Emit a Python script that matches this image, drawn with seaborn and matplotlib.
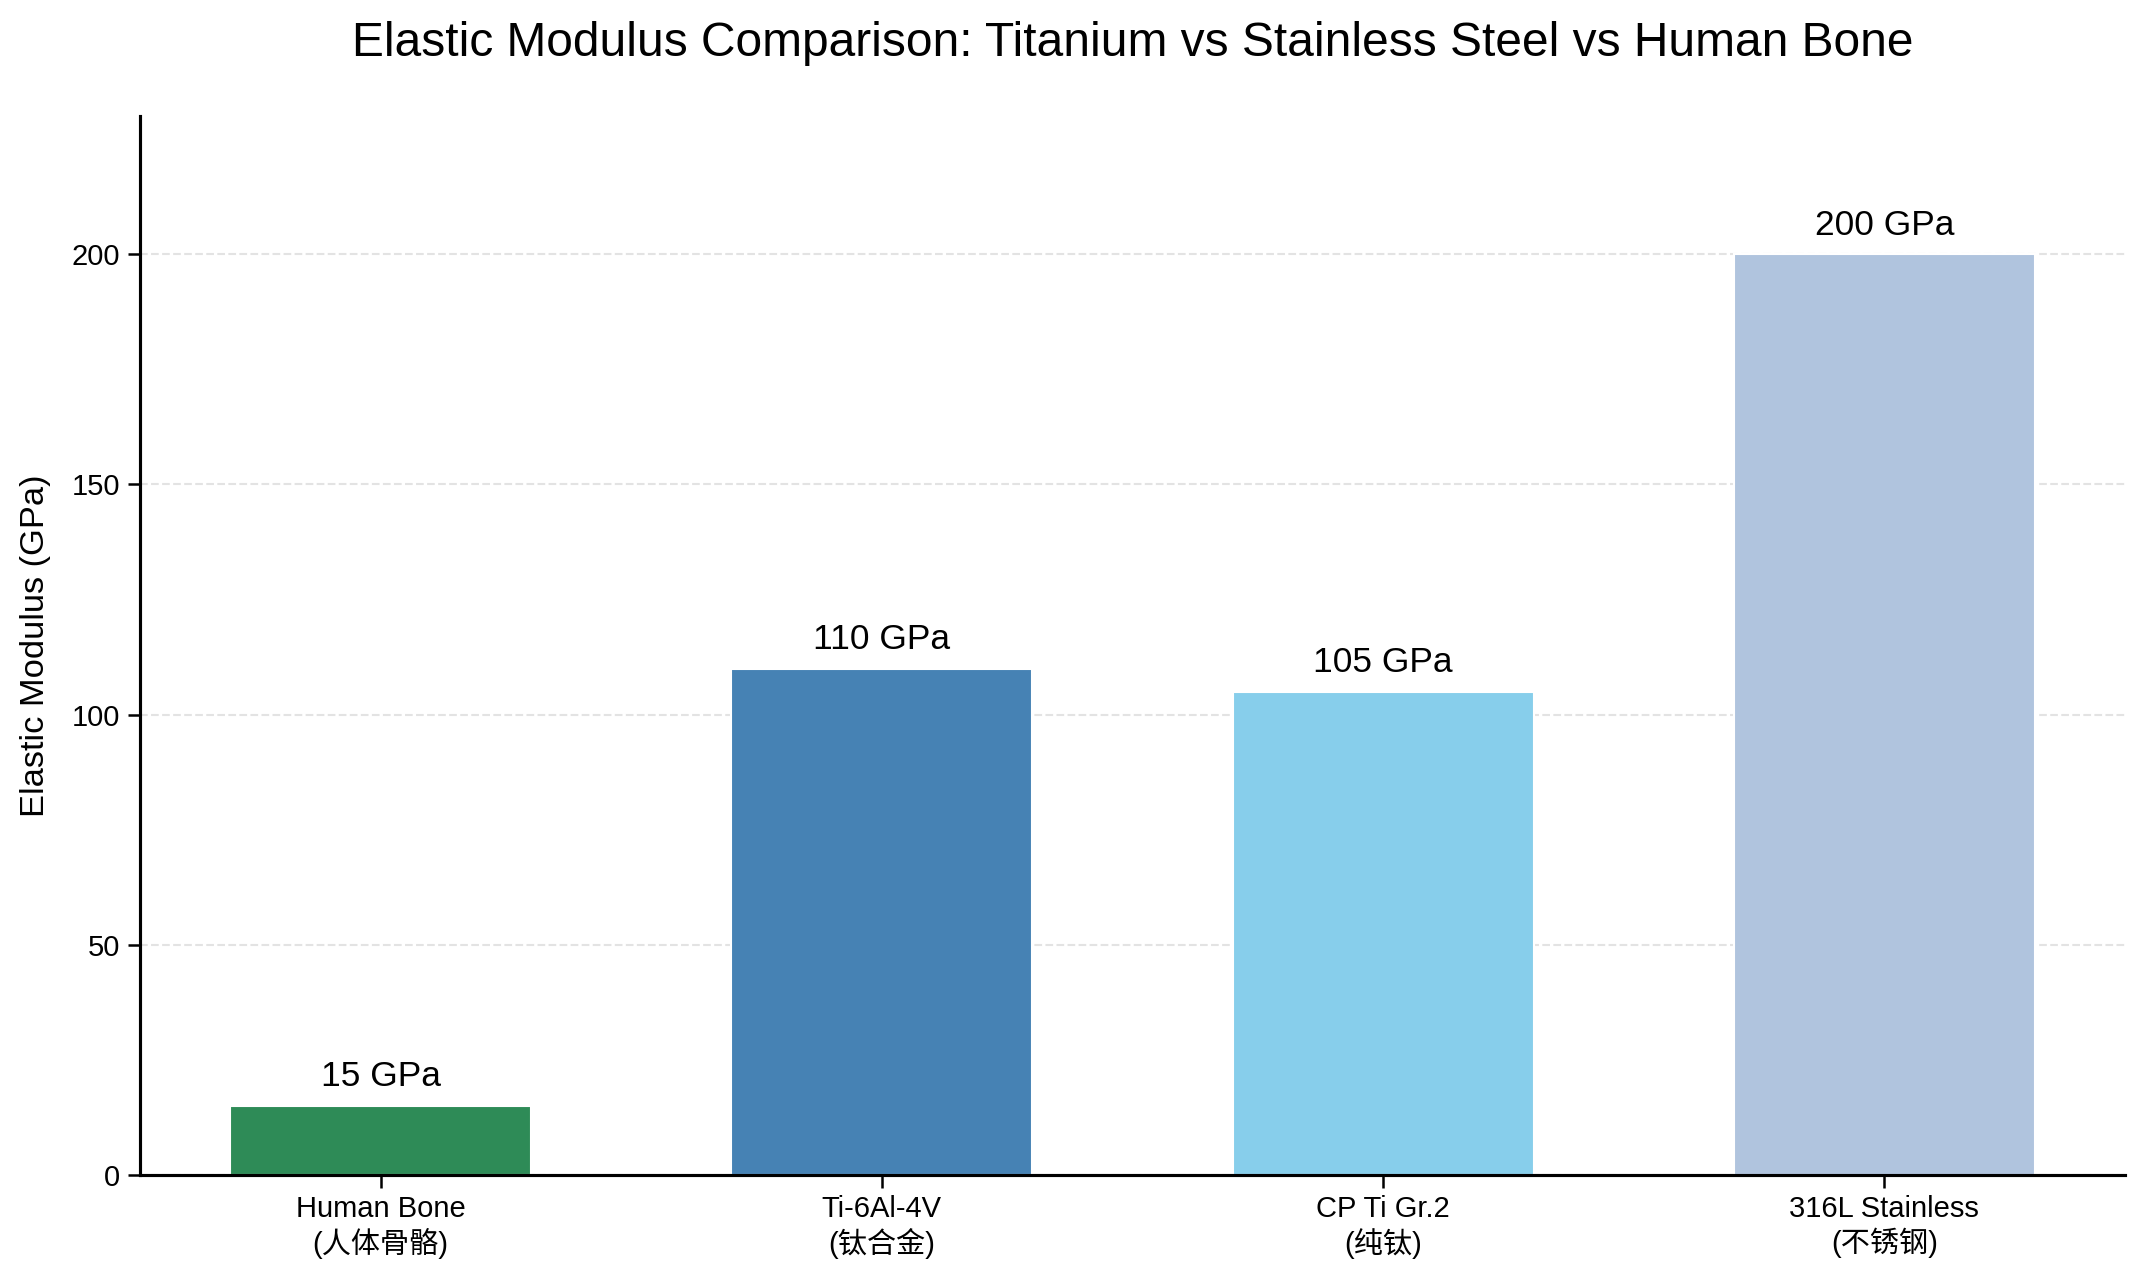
import matplotlib
matplotlib.use("Agg")
import matplotlib.pyplot as plt
import seaborn as sns
import pandas as pd

categories = ["Human Bone\n(人体骨骼)", "Ti-6Al-4V\n(钛合金)", "CP Ti Gr.2\n(纯钛)", "316L Stainless\n(不锈钢)"]
values = [15, 110, 105, 200]
bar_labels = ["15 GPa", "110 GPa", "105 GPa", "200 GPa"]
colors = ["#2E8B57", "#4682B4", "#87CEEB", "#B0C4DE"]
yticks = [0, 50, 100, 150, 200]

sns.set_theme(style="white")
plt.rcParams['font.family'] = ['Liberation Sans', 'Noto Sans CJK SC', 'DejaVu Sans']

df = pd.DataFrame({"Material": categories, "Modulus": values})

fig = plt.figure(figsize=(2147 / 150, 1279 / 150), dpi=150)
ax = fig.add_axes([140 / 2147, 1 - 1175 / 1279, (2125 - 140) / 2147, (1175 - 116) / 1279])

sns.barplot(data=df, x="Material", y="Modulus", hue="Material", palette=colors,
            width=0.6, saturation=1, legend=False, ax=ax)

for i, (v, lab) in enumerate(zip(values, bar_labels)):
    ax.annotate(lab, (i, v), xytext=(0, 6), textcoords="offset points",
                ha="center", va="bottom", fontsize=17, color="black")

ax.set_xlim(-0.48, 3.48)
ax.set_ylim(0, 230)
ax.set_yticks(yticks)
ax.yaxis.grid(True, linestyle="--", color="#dddddd", linewidth=1, alpha=0.8)
ax.set_axisbelow(True)
ax.tick_params(axis="both", which="both", length=6, width=1.2, color="black",
               labelsize=14, labelcolor="black", bottom=True, left=True)
for s in ["top", "right"]:
    ax.spines[s].set_visible(False)
for s in ["left", "bottom"]:
    ax.spines[s].set_color("black")
    ax.spines[s].set_linewidth(1.5)

ax.set_xlabel("")
ax.set_ylabel("Elastic Modulus (GPa)", fontsize=16.5, color="black", labelpad=10)
ax.set_title("Elastic Modulus Comparison: Titanium vs Stainless Steel vs Human Bone",
             fontsize=23, color="black", pad=29)

fig.savefig("out.png", dpi=150, facecolor="white")
